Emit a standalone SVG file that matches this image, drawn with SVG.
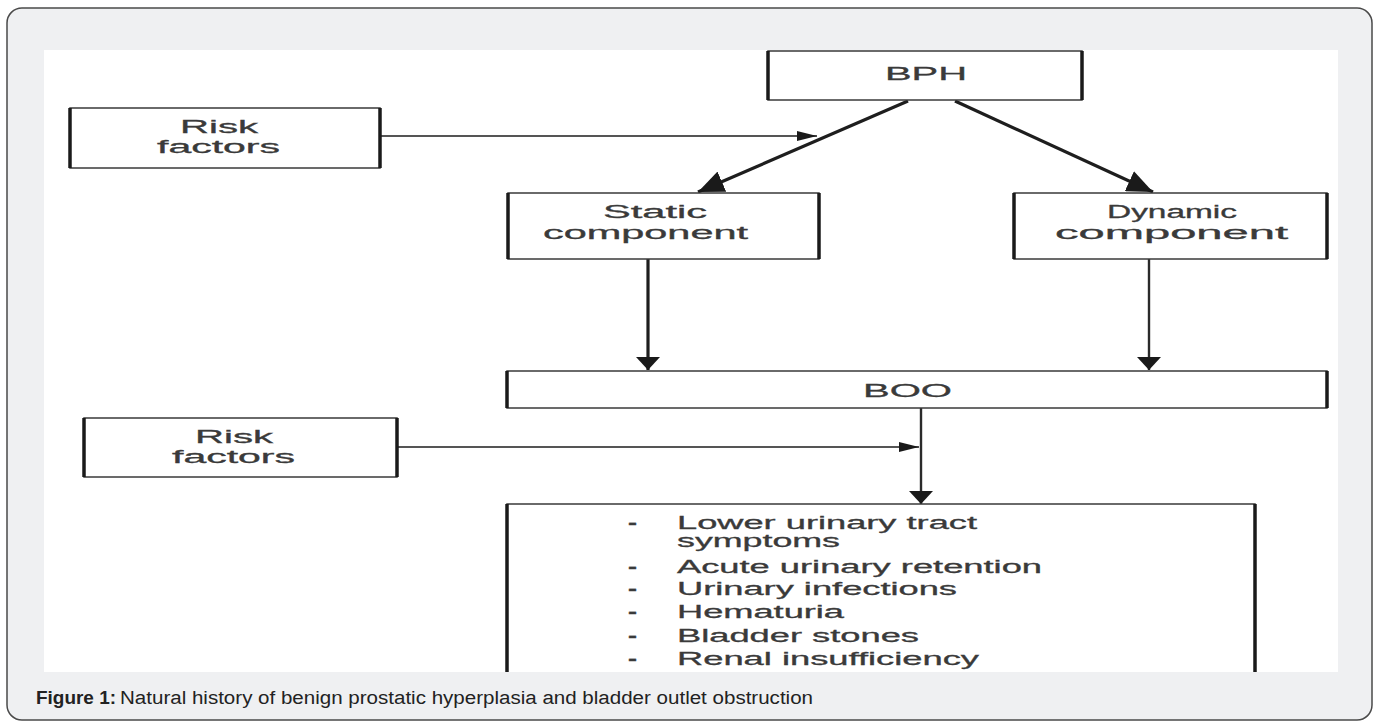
<svg xmlns="http://www.w3.org/2000/svg" width="1378" height="722" viewBox="0 0 1378 722">
<style>
.card{fill:#eff0f2;stroke:#4a4a4a;stroke-width:1.5}
.box{fill:#fff;stroke:#3a3a3a;stroke-width:1.5}
.side{stroke:#1a1a1a;stroke-width:3.5}
.t{font-family:"Liberation Sans",Arial,sans-serif;font-size:18px;fill:#3a3a3a;stroke:#3a3a3a;stroke-width:0.3}
.b{font-weight:bold}
.cap{font-family:"Liberation Sans",Arial,sans-serif;font-size:18px;fill:#222}
.thin{stroke:#555;stroke-width:1.8;fill:none}
.thick{stroke:#1e1e1e;stroke-width:3.2;fill:none}
.mid{stroke:#2a2a2a;stroke-width:2.4;fill:none}
</style>
<defs>
<marker id="big" markerUnits="userSpaceOnUse" markerWidth="28" markerHeight="22" refX="26" refY="11" orient="auto"><path d="M0,0 L26,11 L0,22 z" fill="#1a1a1a"/></marker>
<marker id="down" markerUnits="userSpaceOnUse" markerWidth="14" markerHeight="24" refX="13" refY="12" orient="auto"><path d="M0,0 L13,12 L0,24 z" fill="#1a1a1a"/></marker>
<marker id="small" markerUnits="userSpaceOnUse" markerWidth="22" markerHeight="10" refX="20" refY="5" orient="auto"><path d="M0,0 L20,5 L0,10 z" fill="#1a1a1a"/></marker>
</defs>
<rect class="card" x="7" y="8" width="1365" height="712" rx="15"/>
<rect x="44" y="50" width="1294" height="622" fill="#fff"/>

<g id="connectors">
<line class="thin" x1="380" y1="136" x2="817" y2="136" marker-end="url(#small)"/>
<line class="thick" x1="908" y1="101" x2="698" y2="192" marker-end="url(#big)"/>
<line class="thick" x1="955" y1="101" x2="1153" y2="192" marker-end="url(#big)"/>
<line class="thick" x1="648" y1="259" x2="648" y2="370" marker-end="url(#down)"/>
<line class="mid" x1="1149" y1="259" x2="1149" y2="370" marker-end="url(#down)"/>
<line class="thin" x1="397" y1="447" x2="919" y2="447" marker-end="url(#small)"/>
<line class="mid" x1="921" y1="408" x2="921" y2="504" marker-end="url(#down)"/>
</g>

<g id="risk1">
<rect class="box" x="70" y="108" width="310" height="60"/>
<line class="side" x1="70" y1="108" x2="70" y2="168"/><line class="side" x1="380" y1="108" x2="380" y2="168"/>
<text class="t" x="180" y="133" textLength="78" lengthAdjust="spacingAndGlyphs">Risk</text>
<text class="t" x="157" y="153" textLength="123" lengthAdjust="spacingAndGlyphs">factors</text>
</g>

<g id="bph">
<rect class="box" x="768" y="51" width="314" height="49"/>
<line class="side" x1="768" y1="51" x2="768" y2="100"/><line class="side" x1="1082" y1="51" x2="1082" y2="100"/>
<text class="t" x="885" y="80" textLength="82" lengthAdjust="spacingAndGlyphs">BPH</text>
</g>

<g id="static">
<rect class="box" x="508" y="193" width="311" height="66"/>
<line class="side" x1="508" y1="193" x2="508" y2="259"/><line class="side" x1="819" y1="193" x2="819" y2="259"/>
<text class="t" x="603" y="218" textLength="104" lengthAdjust="spacingAndGlyphs">Static</text>
<text class="t" x="543" y="239" textLength="205" lengthAdjust="spacingAndGlyphs">component</text>
</g>

<g id="dynamic">
<rect class="box" x="1014" y="193" width="313" height="66"/>
<line class="side" x1="1014" y1="193" x2="1014" y2="259"/><line class="side" x1="1327" y1="193" x2="1327" y2="259"/>
<text class="t" x="1107" y="218" textLength="130" lengthAdjust="spacingAndGlyphs">Dynamic</text>
<text class="t" x="1055" y="239" textLength="233" lengthAdjust="spacingAndGlyphs">component</text>
</g>

<g id="boo">
<rect class="box" x="507" y="371" width="820" height="37"/>
<line class="side" x1="507" y1="371" x2="507" y2="408"/><line class="side" x1="1327" y1="371" x2="1327" y2="408"/>
<text class="t" x="863" y="397" textLength="89" lengthAdjust="spacingAndGlyphs">BOO</text>
</g>

<g id="risk2">
<rect class="box" x="84" y="418" width="313" height="59"/>
<line class="side" x1="84" y1="418" x2="84" y2="477"/><line class="side" x1="397" y1="418" x2="397" y2="477"/>
<text class="t" x="195" y="443" textLength="78" lengthAdjust="spacingAndGlyphs">Risk</text>
<text class="t" x="172" y="463" textLength="123" lengthAdjust="spacingAndGlyphs">factors</text>
</g>

<g id="outcomes">
<path d="M507,672 V504 H1255 V672" fill="#fff" stroke="#3a3a3a" stroke-width="1.5"/>
<line class="side" x1="507" y1="504" x2="507" y2="672"/><line class="side" x1="1255" y1="504" x2="1255" y2="672"/>
<g class="t">
<text class="b" x="628" y="529" textLength="9" lengthAdjust="spacingAndGlyphs">-</text>
<text x="677" y="529" textLength="300" lengthAdjust="spacingAndGlyphs">Lower urinary tract</text>
<text x="677" y="547" textLength="163" lengthAdjust="spacingAndGlyphs">symptoms</text>
<text class="b" x="628" y="573" textLength="9" lengthAdjust="spacingAndGlyphs">-</text>
<text x="677" y="573" textLength="365" lengthAdjust="spacingAndGlyphs">Acute urinary retention</text>
<text class="b" x="628" y="595" textLength="9" lengthAdjust="spacingAndGlyphs">-</text>
<text x="677" y="595" textLength="280" lengthAdjust="spacingAndGlyphs">Urinary infections</text>
<text class="b" x="628" y="618" textLength="9" lengthAdjust="spacingAndGlyphs">-</text>
<text x="677" y="618" textLength="167" lengthAdjust="spacingAndGlyphs">Hematuria</text>
<text class="b" x="628" y="642" textLength="9" lengthAdjust="spacingAndGlyphs">-</text>
<text x="677" y="642" textLength="242" lengthAdjust="spacingAndGlyphs">Bladder stones</text>
<text class="b" x="628" y="665" textLength="9" lengthAdjust="spacingAndGlyphs">-</text>
<text x="677" y="665" textLength="302" lengthAdjust="spacingAndGlyphs">Renal insufficiency</text>
</g>
</g>
<rect x="44" y="672" width="1294" height="2" fill="#eff0f2"/>

<g id="caption">
<text class="cap" x="36" y="704" font-weight="bold" textLength="80" lengthAdjust="spacingAndGlyphs">Figure 1:</text>
<text class="cap" x="120" y="704" textLength="693" lengthAdjust="spacingAndGlyphs">Natural history of benign prostatic hyperplasia and bladder outlet obstruction</text>
</g>
</svg>
